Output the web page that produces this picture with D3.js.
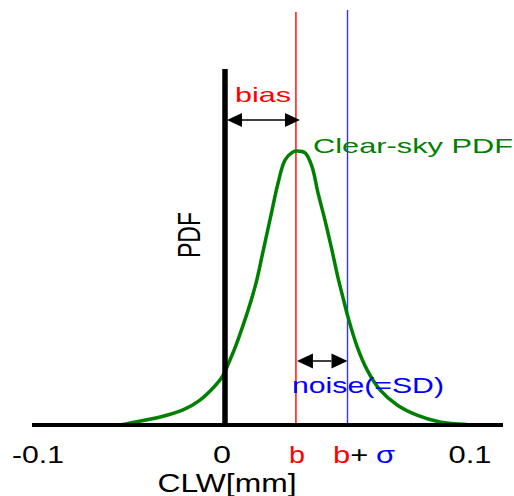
<!DOCTYPE html>
<html><head><meta charset="utf-8">
<script src="https://cdn.jsdelivr.net/npm/d3@7"></script>
<style>body{margin:0;background:#fff}svg{display:block}text{font-family:"Liberation Sans",Arial,sans-serif}</style>
</head><body>
<script>
// ---- data ----
const tickValues = [-0.1, 0, 0.1];
const tickLabels = ["-0.1", "0", "0.1"];
const bias = 0.0286;
const sigma = 0.0208;
const clw = [-0.0571,-0.0516,-0.0353,-0.0228,-0.0136,-0.0065,-0.0016,0.0020,0.0052,0.0121,0.0153,0.0190,0.0214,0.0242,
  0.0274,0.0290,0.0323,0.0351,0.0375,0.0403,0.0431,0.0456,0.0476,0.0496,0.0532,0.0573,0.0625,0.0694,0.0774,0.0867,0.0976];
const pdf = [0,0.007,0.029,0.055,0.091,0.135,0.175,0.237,0.310,0.504,0.632,0.785,0.883,0.967,
  0.996,1.0,0.993,0.942,0.847,0.748,0.639,0.536,0.464,0.394,0.288,0.201,0.128,0.073,0.036,0.011,0.002];

// ---- layout ----
const W = 514, H = 496;
const svg = d3.select("body").append("svg").attr("width", W).attr("height", H);
const x = d3.scaleLinear().domain([-0.1, 0, 0.1]).range([41, 225, 473]);
const y = d3.scaleLinear().domain([0, 1]).range([425, 151]);
const base = y(0);

const RED = "#ff0000", BLUE = "#3333ff", GREEN = "#008000";

// vertical reference lines
svg.append("line").attr("x1", x(bias)).attr("x2", x(bias)).attr("y1", 12).attr("y2", base)
  .attr("stroke", RED).attr("stroke-width", 1.4);
svg.append("line").attr("x1", x(bias + sigma)).attr("x2", x(bias + sigma)).attr("y1", 10).attr("y2", base)
  .attr("stroke", BLUE).attr("stroke-width", 1.4);

// curve
const pts = clw.map((v, i) => [v, pdf[i]]);
svg.append("path").datum(pts)
  .attr("d", d3.line().x(d => x(d[0])).y(d => y(d[1])).curve(d3.curveCatmullRom.alpha(0.5)))
  .attr("fill", "none").attr("stroke", GREEN).attr("stroke-width", 3.5);

// axes
svg.append("line").attr("x1", 32).attr("x2", 503).attr("y1", base).attr("y2", base)
  .attr("stroke", "#000").attr("stroke-width", 4);
svg.append("line").attr("x1", x(0)).attr("x2", x(0)).attr("y1", 69).attr("y2", base + 2)
  .attr("stroke", "#000").attr("stroke-width", 5.5);

// double arrows
function dblArrow(x1, x2, yy, hl, hw) {
  const g = svg.append("g");
  g.append("line").attr("x1", x1 + hl).attr("x2", x2 - hl).attr("y1", yy).attr("y2", yy)
    .attr("stroke", "#000").attr("stroke-width", 1.5);
  g.append("path").attr("d", `M${x1},${yy}L${x1 + hl},${yy - hw}L${x1 + hl},${yy + hw}Z`).attr("fill", "#000");
  g.append("path").attr("d", `M${x2},${yy}L${x2 - hl},${yy - hw}L${x2 - hl},${yy + hw}Z`).attr("fill", "#000");
}
dblArrow(x(0) + 2, x(bias) + 4, 120, 15, 7);
dblArrow(x(bias) + 1, x(bias + sigma), 361, 16, 7.5);

// texts
function txt(str, xx, yy, size, color, len, anchor) {
  return svg.append("text").attr("x", xx).attr("y", yy).attr("font-size", size)
    .attr("fill", color).attr("text-anchor", anchor || "start")
    .attr("textLength", len).attr("lengthAdjust", "spacingAndGlyphs").text(str);
}
const tickLens = [52, 18, 43];
tickValues.forEach((v, i) => txt(tickLabels[i], x(v) - 3, 463, 24, "#000", tickLens[i], "middle"));
txt("b", x(bias) + 1, 463, 24, RED, 16, "middle");
const bs = svg.append("text").attr("x", 333).attr("y", 463).attr("font-size", 24)
  .attr("textLength", 62).attr("lengthAdjust", "spacingAndGlyphs");
bs.append("tspan").attr("fill", RED).text("b");
bs.append("tspan").attr("fill", "#000").text("+");
bs.append("tspan").attr("fill", "#0000ff").attr("dx", 6).text("σ");

txt("CLW[mm]", 227, 492, 26, "#000", 139, "middle");
txt("bias", 235, 102, 21, RED, 56);
txt("Clear-sky PDF", 313, 153, 21, GREEN, 200);
txt("noise(=SD)", 292, 393, 22, "#0000ff", 152);

svg.append("text").attr("transform", "translate(200,235) scale(1.35,1) rotate(-90)")
  .attr("text-anchor", "middle").attr("font-size", 23).attr("fill", "#000").text("PDF");
</script>
</body></html>
